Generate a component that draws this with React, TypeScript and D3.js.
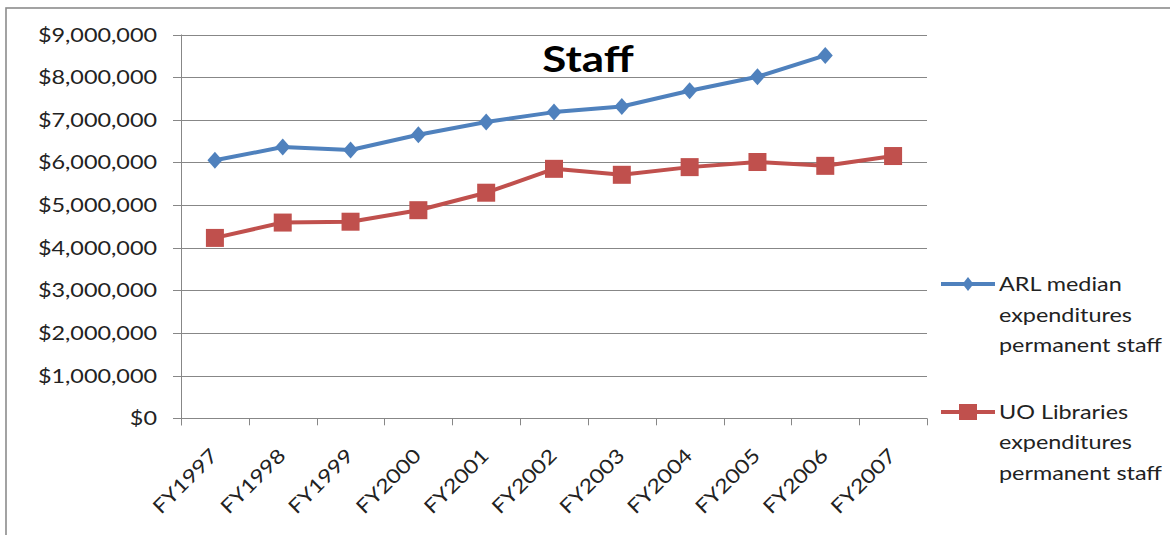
import React from 'react';
import * as d3 from 'd3';

const categories = ['FY1997', 'FY1998', 'FY1999', 'FY2000', 'FY2001', 'FY2002', 'FY2003', 'FY2004', 'FY2005', 'FY2006', 'FY2007'];
const arlValues: (number | null)[] = [6.05e6, 6.36e6, 6.29e6, 6.65e6, 6.95e6, 7.18e6, 7.31e6, 7.68e6, 8.01e6, 8.51e6, null];
const uoValues: (number | null)[] = [4.23e6, 4.59e6, 4.61e6, 4.88e6, 5.29e6, 5.85e6, 5.71e6, 5.89e6, 6.01e6, 5.92e6, 6.15e6];
const yTicks = [0, 1e6, 2e6, 3e6, 4e6, 5e6, 6e6, 7e6, 8e6, 9e6];
const arlLabel = ['ARL median', 'expenditures', 'permanent staff'];
const uoLabel = ['UO Libraries', 'expenditures', 'permanent staff'];
const title = 'Staff';

const BLUE = '#4F81BD';
const RED = '#C0504D';
const GRID = '#878787';
const FONT = 'Lato, "Open Sans", sans-serif';
const SX = 1.2;

export default function App() {
  const W = 1170, H = 535;
  const x0 = 181, x1 = 927, yTop = 34.5, yBot = 418.3;
  const x = d3.scaleBand<string>().domain(categories).range([x0, x1]);
  const y = d3.scaleLinear().domain([0, 9e6]).range([yBot, yTop]);
  const cx = (c: string) => (x(c) as number) + x.bandwidth() / 2;
  const fmt = (v: number) => '$' + d3.format(',')(v);

  const line = d3
    .line<[string, number | null]>()
    .defined((d) => d[1] != null)
    .x((d) => cx(d[0]))
    .y((d) => y(d[1] as number));

  const arlPts = categories.map((c, i) => [c, arlValues[i]] as [string, number | null]);
  const uoPts = categories.map((c, i) => [c, uoValues[i]] as [string, number | null]);

  const diamond = (px: number, py: number, hw: number, hh: number) =>
    `M${px},${py - hh}L${px + hw},${py}L${px},${py + hh}L${px - hw},${py}Z`;

  const boundaries = d3.range(categories.length + 1).map((i) => x0 + i * x.step());

  return (
    <div style={{ position: 'absolute', left: 0, top: 0 }}>
      <svg width={W} height={H} style={{ display: 'block' }}>
        <rect x={0} y={0} width={W} height={H} fill="#fff" />
        <rect x={6} y={8} width={1300} height={700} fill="none" stroke="#8c8c8c" strokeWidth={1.6} />

        {/* gridlines */}
        {yTicks.map((v) => (
          <line key={v} x1={x0 - 8} x2={x1} y1={Math.round(y(v)) + 0.5} y2={Math.round(y(v)) + 0.5} stroke={GRID} strokeWidth={1} />
        ))}
        {/* y axis */}
        <line x1={x0 + 0.5} x2={x0 + 0.5} y1={yTop} y2={yBot + 7} stroke={GRID} strokeWidth={1} />
        {/* x ticks */}
        {boundaries.map((bx, i) => (
          <line key={i} x1={Math.round(bx) + 0.5} x2={Math.round(bx) + 0.5} y1={yBot} y2={yBot + 7} stroke={GRID} strokeWidth={1} />
        ))}

        {/* y labels */}
        {yTicks.map((v) => (
          <g key={v} transform={`translate(157,${y(v) + 7}) scale(${SX},1)`}>
            <text textAnchor="end" fontFamily={FONT} fontSize={19.5} fill="#222">
              {fmt(v)}
            </text>
          </g>
        ))}

        {/* x labels */}
        {categories.map((c) => (
          <g key={c} transform={`translate(${cx(c) + 4},457) rotate(-45) scale(${SX},1)`}>
            <text textAnchor="end" fontFamily={FONT} fontSize={19.5} fill="#222">
              {c}
            </text>
          </g>
        ))}

        {/* title */}
        <g transform={`translate(588,72) scale(1.22,1)`}>
          <text textAnchor="middle" fontFamily={FONT} fontWeight="bold" fontSize={36} fill="#000">
            {title}
          </text>
        </g>

        {/* series */}
        <path d={line(uoPts) || ''} fill="none" stroke={RED} strokeWidth={4} strokeLinejoin="round" />
        <path d={line(arlPts) || ''} fill="none" stroke={BLUE} strokeWidth={4} strokeLinejoin="round" />
        {uoPts.filter((d) => d[1] != null).map((d) => (
          <rect key={d[0]} x={cx(d[0]) - 9} y={y(d[1] as number) - 9} width={18} height={18} fill={RED} />
        ))}
        {arlPts.filter((d) => d[1] != null).map((d) => (
          <path key={d[0]} d={diamond(cx(d[0]), y(d[1] as number), 7.5, 8.5)} fill={BLUE} />
        ))}

        {/* legend */}
        <line x1={941} x2={995} y1={284} y2={284} stroke={BLUE} strokeWidth={4} />
        <path d={diamond(968, 284, 5.5, 7)} fill={BLUE} />
        {arlLabel.map((t, i) => (
          <g key={i} transform={`translate(999,${291 + i * 30.5}) scale(${SX},1)`}>
            <text fontFamily={FONT} fontSize={19.5} fill="#222">{t}</text>
          </g>
        ))}
        <line x1={941} x2={995} y1={412} y2={412} stroke={RED} strokeWidth={4} />
        <rect x={959} y={404} width={18} height={16} fill={RED} />
        {uoLabel.map((t, i) => (
          <g key={i} transform={`translate(999,${418.5 + i * 30.5}) scale(${SX},1)`}>
            <text fontFamily={FONT} fontSize={19.5} fill="#222">{t}</text>
          </g>
        ))}
      </svg>
    </div>
  );
}
